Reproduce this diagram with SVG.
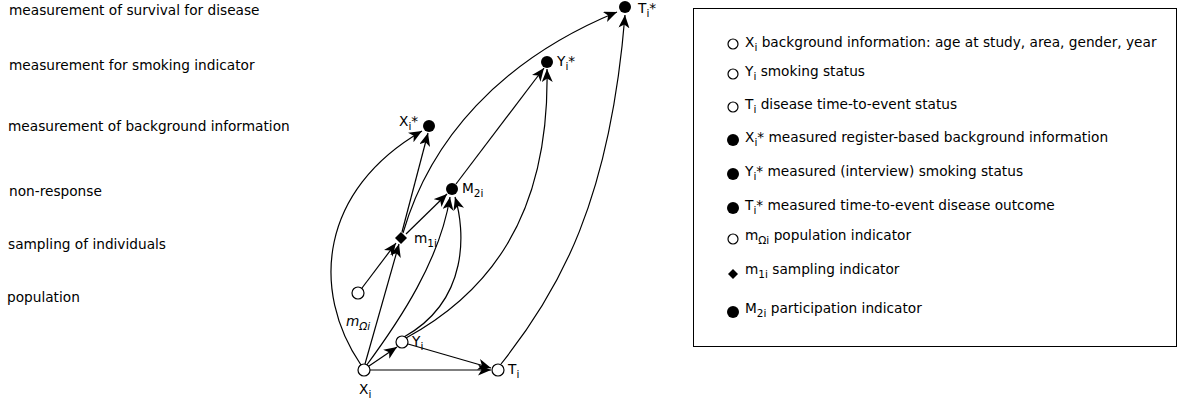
<svg xmlns="http://www.w3.org/2000/svg" width="1179" height="407" viewBox="0 0 1179 407">
<defs>
<marker id="arr" markerUnits="userSpaceOnUse" markerWidth="14" markerHeight="12" refX="13" refY="5.5" orient="auto">
<path d="M0,0 L13,5.5 L0,11 L3.5,5.5 z" fill="#000"/>
</marker>
<style>
text{font-family:"DejaVu Sans","Liberation Sans",sans-serif;font-size:13.7px;fill:#000}
.e{fill:none;stroke:#000;stroke-width:1.2;marker-end:url(#arr)}
.o{fill:#fff;stroke:#000;stroke-width:1.2}
.f{fill:#000}
.s{font-size:10.5px}
</style>
</defs>
<rect width="1179" height="407" fill="#fff"/>
<g id="levels">
<text x="9" y="15">measurement of survival for disease</text>
<text x="9" y="70">measurement for smoking indicator</text>
<text x="8" y="131">measurement of background information</text>
<text x="9" y="196">non-response</text>
<text x="8" y="249">sampling of individuals</text>
<text x="7" y="302">population</text>
</g>
<g id="connectors">
<path class="e" d="M370,370 L491,370"/>
<path class="e" d="M408,344 L491,368"/>
<path class="e" d="M369,366 L397,347"/>
<path class="e" d="M365,364 L399,244"/>
<path class="e" d="M362,288 L396,243"/>
<path class="e" d="M402,232 L428,133"/>
<path class="e" d="M406,234 L447,194"/>
<path class="e" d="M456,184 L544,68"/>
<path class="e" d="M361,365 C310,290 320,190 422,131"/>
<path class="e" d="M403,233 C430,140 500,60 617,12"/>
<path class="e" d="M501,364 C560,290 610,200 625,15"/>
<path class="e" d="M406,338 C485,295 550,220 547,69"/>
<path class="e" d="M404,337 C470,300 465,230 455,197"/>
<path class="e" d="M366,366 C400,320 440,260 450,197"/>
</g>
<g id="node-Xi"><circle class="o" cx="364" cy="370" r="6"/><text x="359" y="394">X<tspan class="s" dy="4">i</tspan></text></g>
<g id="node-Yi"><circle class="o" cx="402" cy="342" r="6"/><text x="412" y="346">Y<tspan class="s" dy="4">i</tspan></text></g>
<g id="node-Ti"><circle class="o" cx="498" cy="370" r="6"/><text x="508" y="374">T<tspan class="s" dy="4">i</tspan></text></g>
<g id="node-mOmega"><circle class="o" cx="358" cy="293" r="6"/><text x="346" y="326" font-style="italic">m<tspan class="s" dy="4">Ωi</tspan></text></g>
<g id="node-m1i"><path class="f" d="M401,232 L407,238 L401,244 L395,238 z"/><text x="414" y="243">m<tspan class="s" dy="4">1i</tspan></text></g>
<g id="node-M2i"><circle class="f" cx="452" cy="189" r="6"/><text x="462" y="193">M<tspan class="s" dy="4">2i</tspan></text></g>
<g id="node-Xstar"><circle class="f" cx="429" cy="126" r="6"/><text x="399" y="126">X<tspan class="s" dy="4">i</tspan><tspan dy="-4">*</tspan></text></g>
<g id="node-Ystar"><circle class="f" cx="547" cy="62" r="6"/><text x="557" y="66">Y<tspan class="s" dy="4">i</tspan><tspan dy="-4">*</tspan></text></g>
<g id="node-Tstar"><circle class="f" cx="625" cy="7" r="6"/><text x="638" y="13">T<tspan class="s" dy="4">i</tspan><tspan dy="-4">*</tspan></text></g>
<g id="legend">
<rect x="693.5" y="8.5" width="483" height="338" fill="#fff" stroke="#000" stroke-width="1"/>
<circle class="o" cx="733" cy="44" r="5"/><text x="745" y="47">X<tspan class="s" dy="4">i</tspan><tspan dy="-4"> background information: age at study, area, gender, year</tspan></text>
<circle class="o" cx="733" cy="74" r="5"/><text x="745" y="76">Y<tspan class="s" dy="4">i</tspan><tspan dy="-4"> smoking status</tspan></text>
<circle class="o" cx="733" cy="107" r="5"/><text x="745" y="109">T<tspan class="s" dy="4">i</tspan><tspan dy="-4"> disease time-to-event status</tspan></text>
<circle class="f" cx="733" cy="140" r="6"/><text x="745" y="142">X<tspan class="s" dy="4">i</tspan><tspan dy="-4">* measured register-based background information</tspan></text>
<circle class="f" cx="733" cy="174" r="6"/><text x="745" y="176">Y<tspan class="s" dy="4">i</tspan><tspan dy="-4">* measured (interview) smoking status</tspan></text>
<circle class="f" cx="733" cy="208" r="6"/><text x="745" y="210">T<tspan class="s" dy="4">i</tspan><tspan dy="-4">* measured time-to-event disease outcome</tspan></text>
<circle class="o" cx="733" cy="239" r="5"/><text x="745" y="240">m<tspan class="s" dy="4">Ωi</tspan><tspan dy="-4"> population indicator</tspan></text>
<path class="f" d="M733,269 L738,274 L733,279 L728,274 z"/><text x="745" y="274">m<tspan class="s" dy="4">1i</tspan><tspan dy="-4"> sampling indicator</tspan></text>
<circle class="f" cx="733" cy="312" r="6"/><text x="745" y="313">M<tspan class="s" dy="4">2i</tspan><tspan dy="-4"> participation indicator</tspan></text>
</g>
</svg>
